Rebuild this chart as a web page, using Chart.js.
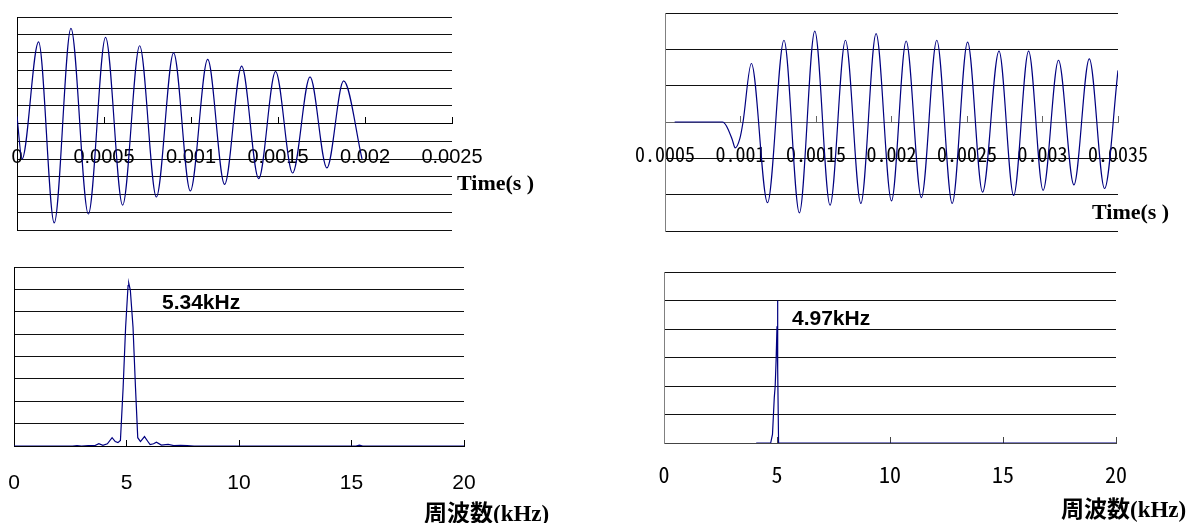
<!DOCTYPE html>
<html>
<head>
<meta charset="utf-8">
<script src="https://cdn.jsdelivr.net/npm/chart.js@4.4.0/dist/chart.umd.min.js"></script>
<style>
  body { margin: 0; background: #fff; }
  #wrap { position: relative; width: 1192px; height: 523px; overflow: hidden; }
  #wrap canvas { position: absolute; left: 0; top: 0; }
  .note { position: absolute; line-height: 1; white-space: pre; color: #000; transform: translateY(-50%); }
  .axis-title { font: bold 22px 'Liberation Serif', 'Noto Sans CJK JP', serif; }
  .freq-title { font-size: 23px; }
  .peak { font: bold 21px 'Liberation Sans', Arial, sans-serif; }
</style>
</head>
<body>
<div id="wrap">
  <canvas id="waveA" width="1192" height="523"></canvas>
  <canvas id="waveB" width="1192" height="523"></canvas>
  <canvas id="specA" width="1192" height="523"></canvas>
  <canvas id="specB" width="1192" height="523"></canvas>

  <div class="note axis-title" style="left:457px; top:183px">Time(s )</div>
  <div class="note axis-title" style="left:1092px; top:212px">Time(s )</div>
  <div class="note axis-title freq-title" style="left:424px; top:511px">周波数(kHz)</div>
  <div class="note axis-title freq-title" style="left:1061px; top:507px">周波数(kHz)</div>
  <div class="note peak" style="left:162px; top:302px">5.34kHz</div>
  <div class="note peak" style="left:792px; top:318px">4.97kHz</div>
</div>

<script>
// top left: time wave (time in ms)
var waveATime = [0, 0.029, 0.124, 0.214, 0.310, 0.410, 0.509, 0.607, 0.705, 0.801, 0.900,
    0.996, 1.096, 1.193, 1.291, 1.389, 1.486, 1.584, 1.684, 1.781, 1.877, 1.983];
var waveAVal = [0.4, -2.0, 4.6, -5.6, 5.36, -5.1, 4.85, -4.6, 4.38, -4.14, 3.98,
    -3.8, 3.61, -3.43, 3.23, -3.1, 2.93, -2.79, 2.63, -2.5, 2.4, -2.0];
var waveATicks = [0, 0.5, 1, 1.5, 2, 2.5];
var waveALabels = ['0', '0.0005', '0.001', '0.0015', '0.002', '0.0025'];

// top right: time wave (time in ms)
var waveBTime = [0.564, 0.881, 0.907, 0.945, 0.965, 0.996, 1.016, 1.072, 1.179, 1.288, 1.390,
    1.492, 1.593, 1.695, 1.797, 1.898, 2.000, 2.097, 2.198, 2.300, 2.402, 2.504, 2.603,
    2.712, 2.809, 2.908, 3.004, 3.106, 3.208, 3.310, 3.411, 3.500];
var waveBVal = [0, 0, -0.11, -0.48, -0.71, -0.45, -0.02, 1.61, -2.22, 2.25, -2.50,
    2.50, -2.29, 2.25, -2.24, 2.43, -2.17, 2.23, -2.08, 2.25, -2.24, 2.20, -1.93,
    1.95, -2.02, 1.95, -1.88, 1.70, -1.73, 1.74, -1.83, 1.42];
var waveBTicks = [0.5, 1, 1.5, 2, 2.5, 3, 3.5];
var waveBLabels = ['0.0005', '0.001', '0.0015', '0.002', '0.0025', '0.003', '0.0035'];

// bottom left: spectrum
var specAFreq = [0, 2.6, 2.8, 3.0, 3.3, 3.6, 3.77, 3.95, 4.15, 4.36, 4.5, 4.62, 4.73, 4.85,
    4.96, 5.07, 5.1, 5.17, 5.29, 5.4, 5.5, 5.62, 5.8, 5.95, 6.05, 6.2, 6.33, 6.55, 6.85,
    7.1, 7.4, 7.7, 8.0, 15.2, 15.35, 15.5, 20];
var specAAmp = [0, 0, 0.02, 0, 0.02, 0.02, 0.1, 0.03, 0.1, 0.37, 0.2, 0.15, 0.25, 2.6,
    5.3, 7.17, 7.28, 6.97, 5.31, 2.6, 0.37, 0.2, 0.42, 0.2, 0.06, 0.1, 0.17, 0.04, 0.07,
    0.02, 0.03, 0.02, 0, 0, 0.04, 0, 0];

// bottom right: spectrum
var specBFreq = [4.08, 4.72, 4.8, 4.88, 4.92, 4.96, 5.0, 5.02, 5.04, 5.07, 20];
var specBAmp = [0, 0, 0.3, 1.6, 2.0, 2.9, 4.1, 5.0, 2.6, 0, 0];

var freqTicks = [0, 5, 10, 15, 20];
var freqLabels = ['0', '5', '10', '15', '20'];

var sansFont = "'Liberation Sans', Arial, sans-serif";
var gothicFont = "'Noto Sans Mono CJK JP', 'Noto Sans CJK JP', 'DejaVu Sans Mono', monospace";

function points(xs, ys) {
    return xs.map(function(x, i) { return { x: x, y: ys[i] }; });
}

function drawPanel(id, o) {
    return new Chart(document.getElementById(id), {
        type: 'line',
        data: {
            datasets: [{
                data: points(o.xs, o.ys),
                borderColor: '#000080',
                borderWidth: 1.2,
                pointRadius: 0,
                tension: 0,
                cubicInterpolationMode: o.smooth ? 'monotone' : 'default',
            }],
        },
        options: {
            responsive: false,
            animation: false,
            events: [],
            layout: { padding: o.pad },
            plugins: { legend: { display: false }, tooltip: { enabled: false } },
            scales: {
                x: {
                    type: 'linear',
                    min: o.xMin,
                    max: o.xMax,
                    // axis sits on a data value, so labels are not clipped to a box
                    position: { y: o.xAt },
                    afterFit: function(s) {
                        s.height = 0;
                        s.paddingLeft = 0;
                        s.paddingRight = 0;
                    },
                    afterBuildTicks: function(s) {
                        s.ticks = o.ticks.map(function(v) { return { value: v }; });
                    },
                    ticks: {
                        autoSkip: false,
                        maxRotation: 0,
                        minRotation: 0,
                        padding: o.labelPad,
                        color: '#000',
                        font: { family: o.tickFamily, size: o.tickSize, lineHeight: 1 },
                        callback: function(v, i) { return o.labels[i]; },
                    },
                    grid: {
                        drawOnChartArea: false,
                        drawTicks: true,
                        tickLength: -7,
                        tickColor: o.xAxisColor,
                    },
                    border: { display: true, color: o.xAxisColor, width: 1 },
                },
                y: {
                    min: o.yMin,
                    max: o.yMax,
                    afterFit: function(s) { s.width = 0; },
                    ticks: { display: false, stepSize: 1 },
                    grid: { color: '#111', drawTicks: false, lineWidth: 1 },
                    border: { display: true, color: o.yAxisColor, width: 1 },
                },
            },
        },
    });
}

drawPanel('waveA', {
    xs: waveATime, ys: waveAVal, smooth: true,
    xMin: 0, xMax: 2.5, yMin: -6, yMax: 6, xAt: 0,
    ticks: waveATicks, labels: waveALabels,
    tickFamily: sansFont, tickSize: 20, labelPad: 31,
    xAxisColor: '#000', yAxisColor: '#000',
    pad: { left: 17, top: 17, right: 740, bottom: 293 },
});

drawPanel('waveB', {
    xs: waveBTime, ys: waveBVal, smooth: true,
    xMin: 0.5, xMax: 3.5, yMin: -3, yMax: 3, xAt: 0,
    ticks: waveBTicks, labels: waveBLabels,
    tickFamily: gothicFont, tickSize: 20, labelPad: 29,
    xAxisColor: '#666', yAxisColor: '#808080',
    pad: { left: 665, top: 13, right: 74, bottom: 292 },
});

drawPanel('specA', {
    xs: specAFreq, ys: specAAmp, smooth: false,
    xMin: 0, xMax: 20, yMin: 0, yMax: 8, xAt: 0,
    ticks: freqTicks, labels: freqLabels,
    tickFamily: sansFont, tickSize: 21, labelPad: 34,
    xAxisColor: '#000', yAxisColor: '#000',
    pad: { left: 14, top: 267, right: 728, bottom: 77 },
});

drawPanel('specB', {
    xs: specBFreq, ys: specBAmp, smooth: false,
    xMin: 0, xMax: 20, yMin: 0, yMax: 6, xAt: 0,
    ticks: freqTicks, labels: freqLabels,
    tickFamily: gothicFont, tickSize: 22, labelPad: 28,
    xAxisColor: '#444', yAxisColor: '#808080',
    pad: { left: 664, top: 272, right: 76, bottom: 80 },
});
</script>
</body>
</html>
